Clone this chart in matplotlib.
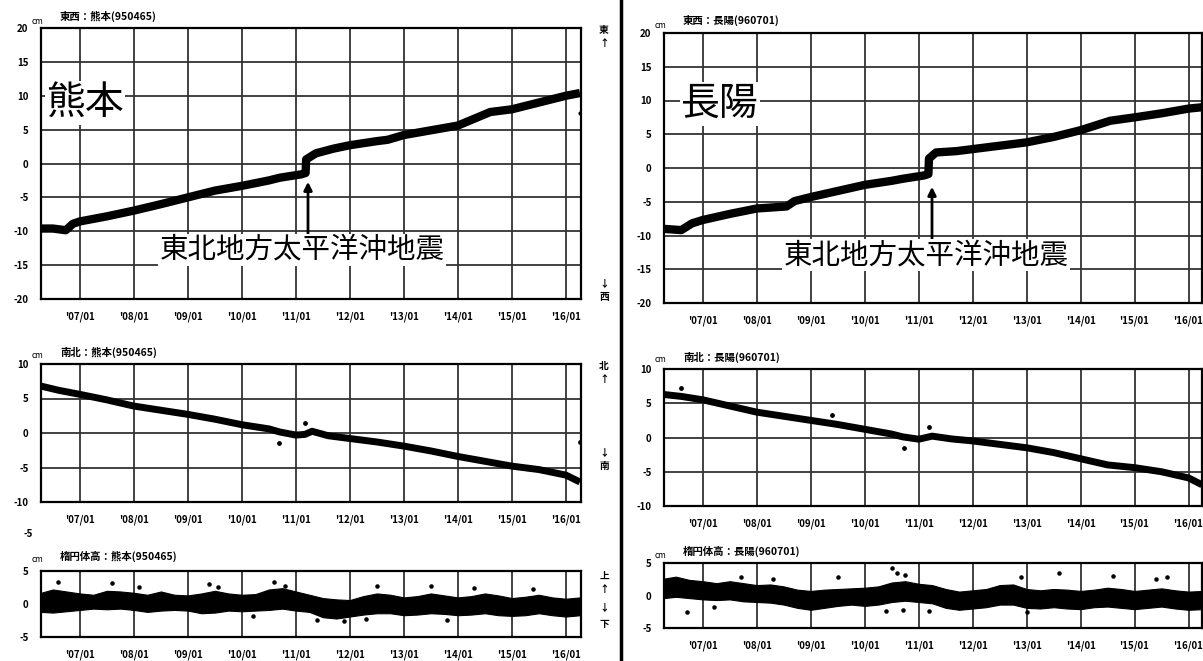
import matplotlib
matplotlib.use("Agg")
import matplotlib.pyplot as plt

plt.rcParams['font.family'] = ['Noto Sans CJK JP', 'DejaVu Sans']

W, H = 1203, 661

# ---------------- data (decimal years, cm) ----------------
year_ticks = [2007, 2008, 2009, 2010, 2011, 2012, 2013, 2014, 2015, 2016]
year_labels = ["'07/01", "'08/01", "'09/01", "'10/01", "'11/01", "'12/01",
               "'13/01", "'14/01", "'15/01", "'16/01"]

# 熊本 east-west
t_ew_kum = [2006.28, 2006.5, 2006.74, 2006.87, 2007.0, 2007.5, 2008.0, 2008.5, 2009.0,
            2009.5, 2010.0, 2010.5, 2010.7, 2011.1, 2011.18, 2011.19, 2011.37, 2011.7,
            2012.0, 2012.5, 2012.7, 2013.0, 2013.5, 2014.0, 2014.3, 2014.6, 2015.0,
            2015.5, 2016.0, 2016.26]
ew_kum = [-9.6, -9.6, -9.85, -8.9, -8.55, -7.8, -6.95, -6.0, -5.0,
          -4.0, -3.3, -2.5, -2.1, -1.6, -1.4, 0.6, 1.5, 2.2,
          2.7, 3.3, 3.5, 4.2, 4.9, 5.6, 6.6, 7.6, 8.0,
          9.0, 10.0, 10.4]
ew_kum_out_t = [2016.27]
ew_kum_out_v = [7.4]

# 熊本 north-south
t_ns_kum = [2006.28, 2006.6, 2007.0, 2007.5, 2008.0, 2008.5, 2009.0, 2009.5, 2010.0,
            2010.5, 2010.7, 2011.0, 2011.17, 2011.3, 2011.6, 2012.0, 2012.5, 2013.0,
            2013.5, 2014.0, 2014.5, 2015.0, 2015.5, 2016.0, 2016.26]
ns_kum = [6.8, 6.2, 5.6, 4.8, 3.9, 3.3, 2.7, 2.0, 1.2,
          0.6, 0.15, -0.3, -0.2, 0.25, -0.4, -0.8, -1.3, -1.9,
          -2.6, -3.4, -4.1, -4.8, -5.3, -6.1, -7.1]
ns_kum_out_t = [2010.68, 2011.17, 2016.27]
ns_kum_out_v = [-1.5, 1.5, -1.3]

# ellipsoidal height sample times (quarterly)
t_h = [2006.28, 2006.5, 2006.75, 2007.0, 2007.25, 2007.5, 2007.75, 2008.0, 2008.25,
       2008.5, 2008.75, 2009.0, 2009.25, 2009.5, 2009.75, 2010.0, 2010.25, 2010.5,
       2010.75, 2011.0, 2011.25, 2011.5, 2011.75, 2012.0, 2012.25, 2012.5, 2012.75,
       2013.0, 2013.25, 2013.5, 2013.75, 2014.0, 2014.25, 2014.5, 2014.75, 2015.0,
       2015.25, 2015.5, 2015.75, 2016.0, 2016.26]

# 熊本 ellipsoidal height (band envelope)
h_kum_up = [1.7, 2.2, 1.9, 1.6, 1.4, 2.0, 1.9, 1.7, 1.4,
            1.9, 1.4, 1.3, 1.6, 2.0, 1.6, 1.4, 1.5, 2.2,
            2.4, 1.9, 1.4, 0.9, 0.7, 0.6, 1.2, 1.6, 1.4,
            1.0, 1.2, 1.6, 1.3, 1.0, 1.2, 1.6, 1.3, 0.9,
            1.1, 1.4, 1.0, 0.8, 1.0]
h_kum_lo = [-1.2, -1.3, -1.1, -0.9, -0.7, -0.8, -0.7, -0.9, -1.2,
            -1.0, -0.9, -1.0, -1.4, -1.3, -1.0, -1.1, -1.0, -0.9,
            -0.7, -1.0, -1.2, -2.0, -2.2, -1.9, -1.6, -1.4, -1.4,
            -1.7, -1.6, -1.4, -1.5, -1.7, -1.6, -1.4, -1.7, -1.8,
            -1.7, -1.4, -1.7, -1.9, -1.7]
h_kum_out_t = [2006.6, 2007.6, 2008.1, 2009.4, 2009.55, 2010.6, 2010.8, 2010.2,
               2011.4, 2011.9, 2012.5, 2012.3, 2013.5, 2014.3, 2015.4, 2013.8]
h_kum_out_v = [3.3, 3.2, 2.6, 3.0, 2.6, 3.4, 2.8, -1.8,
               -2.4, -2.6, 2.8, -2.3, 2.7, 2.5, 2.3, -2.4]

# 長陽 east-west
t_ew_cho = [2006.25, 2006.6, 2006.8, 2007.0, 2007.5, 2008.0, 2008.55, 2008.7, 2009.0,
            2009.5, 2010.0, 2010.5, 2010.7, 2011.1, 2011.18, 2011.19, 2011.32, 2011.7,
            2012.0, 2012.5, 2013.0, 2013.5, 2014.0, 2014.55, 2015.0, 2015.5, 2016.0,
            2016.25]
ew_cho = [-9.0, -9.2, -8.2, -7.7, -6.8, -6.0, -5.7, -4.9, -4.3,
          -3.4, -2.5, -1.9, -1.6, -1.1, -0.9, 1.4, 2.3, 2.5,
          2.8, 3.3, 3.8, 4.6, 5.6, 7.0, 7.5, 8.1, 8.8,
          9.0]

# 長陽 north-south
t_ns_cho = [2006.25, 2006.6, 2007.0, 2007.5, 2008.0, 2008.5, 2009.0, 2009.5, 2010.0,
            2010.5, 2010.7, 2011.0, 2011.25, 2011.6, 2012.0, 2012.5, 2013.0, 2013.5,
            2014.0, 2014.5, 2015.0, 2015.5, 2016.0, 2016.25]
ns_cho = [6.3, 6.0, 5.5, 4.6, 3.7, 3.1, 2.5, 1.9, 1.2,
          0.5, 0.1, -0.25, 0.2, -0.2, -0.5, -1.0, -1.5, -2.2,
          -3.1, -4.0, -4.4, -5.0, -5.9, -6.9]
ns_cho_out_t = [2006.6, 2009.4, 2011.2, 2010.73]
ns_cho_out_v = [7.2, 3.3, 1.6, -1.6]

# 長陽 ellipsoidal height (band envelope)
h_cho_up = [2.6, 2.9, 2.4, 2.2, 1.9, 2.2, 1.9, 1.6, 1.7,
            1.4, 0.9, 0.7, 0.9, 1.0, 1.1, 1.2, 1.4, 2.0,
            2.2, 1.8, 1.6, 1.0, 0.6, 0.8, 1.0, 1.6, 1.7,
            1.0, 0.8, 1.0, 0.9, 0.7, 0.9, 1.2, 1.0, 0.7,
            0.9, 1.1, 0.8, 0.6, 0.7]
h_cho_lo = [-0.4, -0.2, -0.4, -0.6, -0.7, -0.6, -0.9, -1.0, -1.1,
            -1.4, -1.9, -2.2, -1.9, -1.6, -1.4, -1.6, -1.4, -1.0,
            -0.8, -1.0, -1.2, -1.9, -2.2, -2.0, -1.8, -1.4, -1.4,
            -1.9, -2.0, -1.8, -2.0, -2.1, -1.8, -1.7, -1.9, -2.1,
            -1.9, -1.7, -2.0, -2.2, -2.1]
h_cho_out_t = [2006.7, 2007.2, 2007.7, 2008.3, 2009.5, 2010.5, 2010.6, 2010.75,
               2010.4, 2010.7, 2011.2, 2012.9, 2013.0, 2013.6, 2014.6, 2015.4, 2015.6]
h_cho_out_v = [-2.5, -1.8, 2.8, 2.5, 2.9, 4.2, 3.5, 3.2,
               -2.4, -2.3, -2.4, 2.8, -2.5, 3.5, 3.0, 2.6, 2.9]

# ---------------- figure ----------------
fig = plt.figure(figsize=(W / 100, H / 100), dpi=100)


def rect(l, t, r, b):
    return [l / W, 1 - b / H, (r - l) / W, (b - t) / H]


def px(x, y):
    return x / W, 1 - y / H


def setup(ax, ylim, yticks, hgrid, xlim):
    ax.set_xlim(*xlim)
    ax.set_ylim(*ylim)
    ax.set_xticks(year_ticks)
    ax.set_xticklabels(year_labels, fontsize=7, fontweight='bold')
    ax.set_yticks(yticks)
    ax.set_yticklabels([str(v) for v in yticks], fontsize=7, fontweight='bold')
    ax.tick_params(length=0, pad=9)
    for x in year_ticks:
        ax.axvline(x, color='#333333', lw=1.3, zorder=1)
    for y in hgrid:
        ax.axhline(y, color='#333333', lw=1.3, zorder=1)
    for s in ax.spines.values():
        s.set_linewidth(1.6)
        s.set_color('black')


xl_left = (2006.28, 2016.28)
xl_right = (2006.28, 2016.25)

# ---- left column: 熊本 ----
a1 = fig.add_axes(rect(41, 28, 581, 299))
setup(a1, (-20, 20), [20, 15, 10, 5, 0, -5, -10, -15, -20], [15, 10, 5, 0, -5, -10, -15], xl_left)
a1.plot(t_ew_kum, ew_kum, color='black', lw=6, solid_capstyle='butt', zorder=3)
a1.scatter(ew_kum_out_t, ew_kum_out_v, s=4, color='black', zorder=3)

a2 = fig.add_axes(rect(41, 364, 581, 502))
setup(a2, (-10, 10), [10, 5, 0, -5, -10], [5, 0, -5], xl_left)
a2.plot(t_ns_kum, ns_kum, color='black', lw=5, solid_capstyle='butt', zorder=3)
a2.scatter(ns_kum_out_t, ns_kum_out_v, s=6, color='black', zorder=3)

a3 = fig.add_axes(rect(41, 571, 581, 637))
setup(a3, (-5, 5), [5, 0, -5], [], xl_left)
a3.fill_between(t_h, h_kum_lo, h_kum_up, color='black', lw=0.8, zorder=3)
a3.scatter(h_kum_out_t, h_kum_out_v, s=5, color='black', zorder=3)

# ---- right column: 長陽 ----
b1 = fig.add_axes(rect(664, 33, 1202, 303))
setup(b1, (-20, 20), [20, 15, 10, 5, 0, -5, -10, -15, -20], [15, 10, 5, 0, -5, -10, -15], xl_right)
b1.plot(t_ew_cho, ew_cho, color='black', lw=6, solid_capstyle='butt', zorder=3)

b2 = fig.add_axes(rect(664, 369, 1202, 506))
setup(b2, (-10, 10), [10, 5, 0, -5, -10], [5, 0, -5], xl_right)
b2.plot(t_ns_cho, ns_cho, color='black', lw=5, solid_capstyle='butt', zorder=3)
b2.scatter(ns_cho_out_t, ns_cho_out_v, s=6, color='black', zorder=3)

b3 = fig.add_axes(rect(664, 563, 1202, 628))
setup(b3, (-5, 5), [5, 0, -5], [], xl_right)
b3.fill_between(t_h, h_cho_lo, h_cho_up, color='black', lw=0.8, zorder=3)
b3.scatter(h_cho_out_t, h_cho_out_v, s=5, color='black', zorder=3)

# ---- titles and units ----
tkw = dict(fontsize=7.5, fontweight='bold', ha='left', va='center')
fig.text(*px(60, 16), '東西：熊本(950465)', **tkw)
fig.text(*px(60, 352), '南北：熊本(950465)', **tkw)
fig.text(*px(60, 556), '楕円体高：熊本(950465)', **tkw)
fig.text(*px(683, 20), '東西：長陽(960701)', **tkw)
fig.text(*px(683, 357), '南北：長陽(960701)', **tkw)
fig.text(*px(683, 551), '楕円体高：長陽(960701)', **tkw)
ukw = dict(fontsize=6, ha='left', va='center')
for (x, y) in [(32, 21), (32, 355), (32, 560), (655, 26), (655, 360), (655, 555)]:
    fig.text(*px(x, y), 'cm', **ukw)
fig.text(*px(28, 534), '-5', fontsize=7, fontweight='bold', ha='center', va='center')

# ---- direction labels ----
dkw = dict(fontsize=7, fontweight='bold', ha='center', va='center')
for (y, s) in [(30, '東'), (43, '↑'), (283, '↓'), (297, '西'),
               (366, '北'), (379, '↑'), (452, '↓'), (466, '南'),
               (576, '上'), (589, '↑'), (607, '↓'), (624, '下')]:
    fig.text(*px(604, y), s, **dkw)

# ---- station names and earthquake annotations ----
bkw = dict(facecolor='white', edgecolor='none', pad=1)
fig.text(*px(85, 103), '熊本', fontsize=28, ha='center', va='center', bbox=bkw, zorder=5)
fig.text(*px(720, 104), '長陽', fontsize=28, ha='center', va='center', bbox=bkw, zorder=5)
fig.text(*px(302, 250), '東北地方太平洋沖地震', fontsize=20.5, ha='center', va='center', bbox=bkw, zorder=5)
fig.text(*px(926, 255), '東北地方太平洋沖地震', fontsize=20.5, ha='center', va='center', bbox=bkw, zorder=5)

akw = dict(arrowstyle='-|>', color='black', lw=2, mutation_scale=12)
fig.add_artist(matplotlib.patches.FancyArrowPatch(px(308, 238), px(308, 179),
                                                  transform=fig.transFigure, **akw))
fig.add_artist(matplotlib.patches.FancyArrowPatch(px(932, 243), px(932, 184),
                                                  transform=fig.transFigure, **akw))

# ---- separator ----
fig.add_artist(matplotlib.lines.Line2D([621 / W, 621 / W], [0, 1], color='black', lw=2.5,
                                       transform=fig.transFigure))

fig.savefig('out.png', dpi=100, facecolor='white')
